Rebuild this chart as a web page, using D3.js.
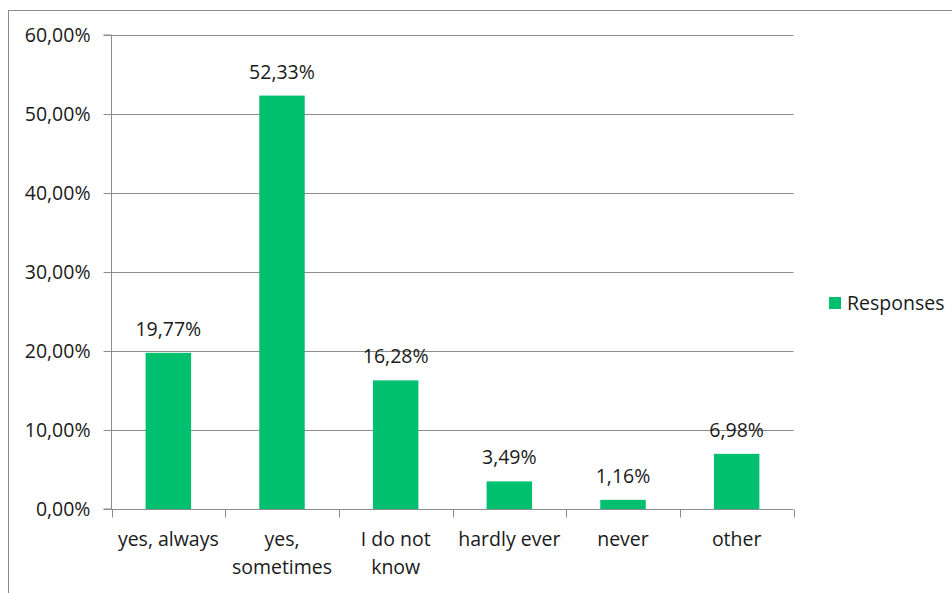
<!DOCTYPE html>
<html>
<head>
<meta charset="utf-8">
<script src="https://cdn.jsdelivr.net/npm/d3@7"></script>
<style>
body { margin: 0; background: #fff; }
text { font-family: "Open Sans", Lato, sans-serif; fill: #1a1a1a; }
</style>
</head>
<body>
<script>
/* chart data */
var categories = [["yes, always"], ["yes,", "sometimes"], ["I do not", "know"], ["hardly ever"], ["never"], ["other"]];
var values = [19.77, 52.33, 16.28, 3.49, 1.16, 6.98];
var yTicks = [0, 10, 20, 30, 40, 50, 60];
var seriesName = "Responses";

var green = "#00BF6F", gridColour = "#8c8c8c", fontSize = 19.5;

var svg = d3.select("body").append("svg")
	.attr("width", 952).attr("height", 593);

/* outer chart border, cut off on the right and bottom */
svg.append("rect")
	.attr("x", 8.5).attr("y", 10.5).attr("width", 960).attr("height", 600)
	.attr("fill", "none").attr("stroke", "#8a8a8a").attr("stroke-width", 1);

var plotLeft = 111.5, plotRight = 793.5, plotTop = 35, plotBottom = 509;

var x = d3.scaleBand()
	.domain(d3.range(categories.length))
	.range([plotLeft, plotRight])
	.paddingInner(0).paddingOuter(0);

var y = d3.scaleLinear().domain([0, 60]).range([plotBottom, plotTop]);

function pct(d){ return d.toFixed(2).replace(".", ",") + "%"; }

/* gridlines */
svg.append("g").selectAll("line").data(yTicks.filter(function(d){ return d > 0; }))
	.enter().append("line")
	.attr("x1", plotLeft).attr("x2", plotRight)
	.attr("y1", function(d){ return Math.round(y(d)) + 0.5; })
	.attr("y2", function(d){ return Math.round(y(d)) + 0.5; })
	.attr("stroke", gridColour).attr("stroke-width", 1);

/* bars */
var barW = x.bandwidth() * 0.4;
svg.append("g").selectAll("rect").data(values)
	.enter().append("rect")
	.attr("x", function(d, i){ return x(i) + (x.bandwidth() - barW) / 2; })
	.attr("y", function(d){ return y(d); })
	.attr("width", barW)
	.attr("height", function(d){ return plotBottom - y(d); })
	.attr("fill", green);

/* data labels */
svg.append("g").selectAll("text").data(values)
	.enter().append("text")
	.attr("x", function(d, i){ return x(i) + x.bandwidth() / 2; })
	.attr("y", function(d){ return y(d) - 17; })
	.attr("text-anchor", "middle")
	.attr("font-size", fontSize)
	.text(pct);

/* y axis */
var yAxis = d3.axisLeft(y).tickValues(yTicks).tickSize(8).tickPadding(13).tickFormat(pct);
var gy = svg.append("g").attr("transform", "translate(" + plotLeft + ",0)").call(yAxis);
gy.select(".domain").attr("stroke", gridColour).attr("d", "M-8," + plotBottom + "H0V" + plotTop + "H-8");
gy.selectAll(".tick line").attr("stroke", gridColour);
gy.selectAll(".tick text").attr("font-size", fontSize).attr("fill", "#1a1a1a")
	.attr("font-family", "'Open Sans', Lato, sans-serif");

/* x axis */
var xAxis = d3.axisBottom(x).tickSize(0).tickFormat("");
var gx = svg.append("g").attr("transform", "translate(0," + (plotBottom + 0.5) + ")").call(xAxis);
gx.select(".domain").attr("stroke", gridColour).attr("d", "M" + plotLeft + ",0H" + plotRight);
gx.selectAll(".tick").remove();
gx.selectAll("line.sep").data(d3.range(categories.length + 1))
	.enter().append("line").attr("class", "sep")
	.attr("x1", function(i){ return Math.round(plotLeft + i * x.step()) + 0.5; })
	.attr("x2", function(i){ return Math.round(plotLeft + i * x.step()) + 0.5; })
	.attr("y1", 0).attr("y2", 8)
	.attr("stroke", gridColour);

var catLabels = svg.append("g").selectAll("text").data(categories)
	.enter().append("text")
	.attr("x", function(d, i){ return x(i) + x.bandwidth() / 2; })
	.attr("y", 546)
	.attr("text-anchor", "middle")
	.attr("font-size", fontSize);
catLabels.selectAll("tspan").data(function(d){ return d; })
	.enter().append("tspan")
	.attr("x", function(){ return d3.select(this.parentNode).attr("x"); })
	.attr("dy", function(d, i){ return i === 0 ? 0 : 28; })
	.text(function(d){ return d; });

/* legend */
var legend = svg.append("g").attr("transform", "translate(829,297)");
legend.append("rect").attr("width", 12).attr("height", 12).attr("fill", green);
legend.append("text").attr("x", 18).attr("y", 13).attr("font-size", fontSize).text(seriesName);
</script>
</body>
</html>
